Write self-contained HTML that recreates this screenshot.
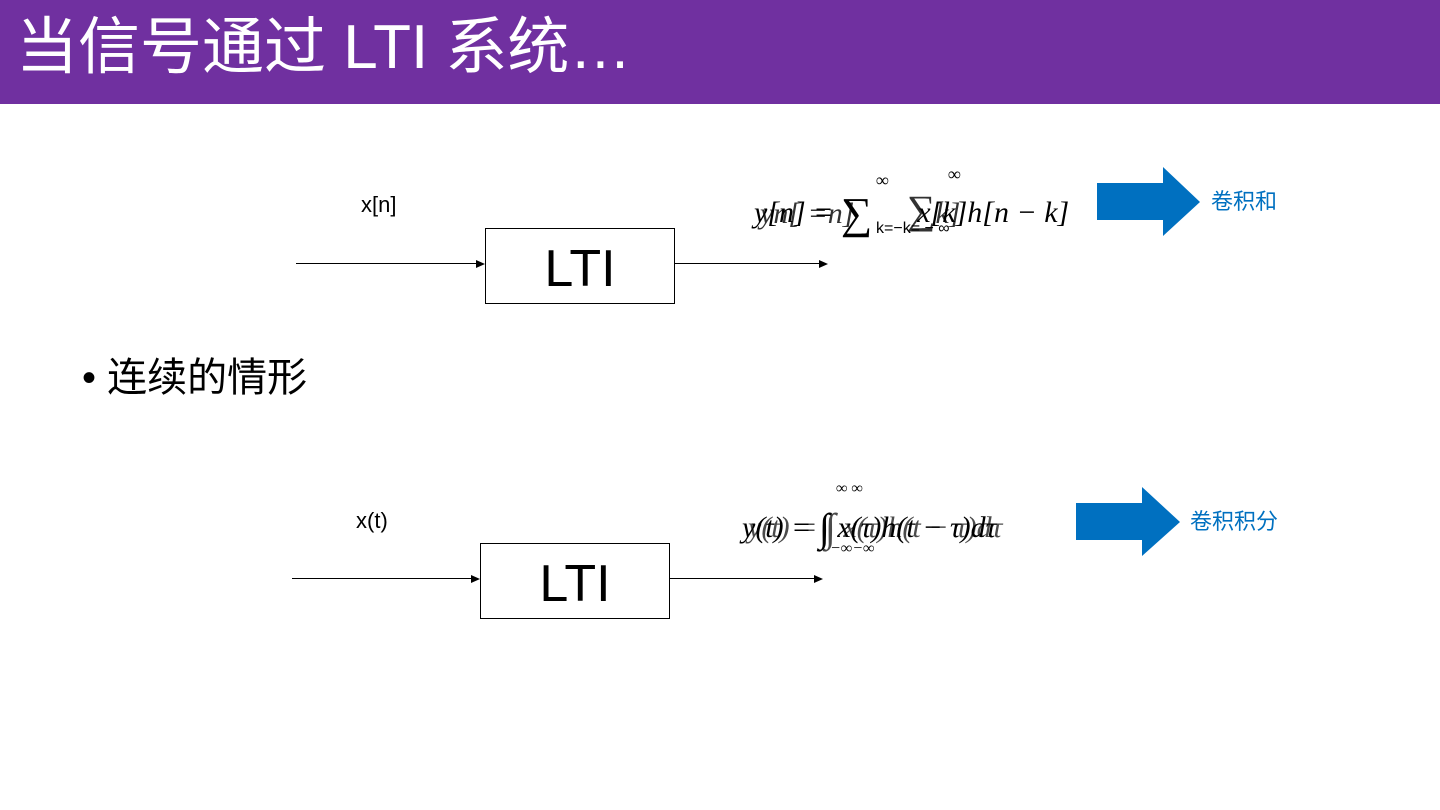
<!DOCTYPE html>
<html><head><meta charset="utf-8"><style>
body{margin:0;width:1440px;height:810px;background:#fff;position:relative;overflow:hidden;font-family:"Liberation Sans","Noto Sans CJK SC",sans-serif}
.hdr{position:absolute;left:0;top:0;width:1440px;height:104px;background:#7030A0}
.t{position:absolute;white-space:nowrap}
.box{position:absolute;border:1px solid #000;background:#fff;font-size:52px;text-align:center}
.ln{position:absolute;height:1px;background:#000}
.ah{position:absolute;width:0;height:0;border-top:4px solid transparent;border-bottom:4px solid transparent;border-left:9px solid #000}
.m{font-family:"Liberation Serif","DejaVu Serif",serif;font-style:italic;color:#000}
</style></head><body>
<div class="hdr"></div>
<div class="t" style="left:16px;top:10px;font-size:62px;color:#fff;line-height:76px">当信号通过 LTI 系统…</div>

<div class="t" style="left:361px;top:192px;font-size:22px">x[n]</div>
<div class="ln" style="left:296px;top:263px;width:180px"></div><div class="ah" style="left:476px;top:260px"></div>
<div class="box" style="left:485px;top:228px;width:188px;height:74px;line-height:80px">LTI</div>
<div class="ln" style="left:675px;top:263px;width:144px"></div><div class="ah" style="left:819px;top:260px"></div>

<div class="t m" style="left:754px;top:182px;font-size:30px">y[n] = <span style="font-style:normal;font-size:44px;position:relative;top:6px">∑</span>&nbsp;&nbsp;&nbsp;&nbsp;&nbsp; x[k]h[n − k]</div>
<div class="t m" style="left:760px;top:186px;font-size:30px;opacity:.8">yn[ =n] &nbsp;&nbsp;&nbsp;&nbsp;&nbsp;&nbsp;<span style="font-style:normal;font-size:40px">∑</span>k]</div>
<div class="t m" style="left:876px;top:170px;font-size:18px">∞</div>
<div class="t m" style="left:948px;top:164px;font-size:18px">∞</div>
<div class="t" style="left:876px;top:220px;font-size:16px">k=−k= − ∞</div>

<svg class="t" style="left:1097px;top:167px" width="104" height="70"><polygon points="0,16 66,16 66,0 103,35 66,69 66,53 0,53" fill="#0070C0"/></svg>
<div class="t" style="left:1211px;top:184px;font-size:22px;color:#0070C0">卷积和</div>

<div class="t" style="left:82px;top:352px;font-size:40px;line-height:52px">• 连续的情形</div>

<div class="t" style="left:356px;top:508px;font-size:22px">x(t)</div>
<div class="ln" style="left:292px;top:578px;width:179px"></div><div class="ah" style="left:471px;top:575px"></div>
<div class="box" style="left:480px;top:543px;width:188px;height:74px;line-height:80px">LTI</div>
<div class="ln" style="left:670px;top:578px;width:144px"></div><div class="ah" style="left:814px;top:575px"></div>

<div class="t m" style="left:742px;top:500px;font-size:30px">y(t) = <span style="font-style:normal;font-size:40px;position:relative;top:4px">∫</span>&nbsp;x(τ)h(t − τ)dτ</div>
<div class="t m" style="left:748px;top:500px;font-size:30px;opacity:.7">y(t) = <span style="font-style:normal;font-size:40px;position:relative;top:4px">∫</span> x(τ)h(t − τ)dτ</div>
<div class="t m" style="left:836px;top:480px;font-size:16px">∞ ∞</div>
<div class="t m" style="left:830px;top:540px;font-size:16px">−∞−∞</div>

<svg class="t" style="left:1076px;top:487px" width="105" height="70"><polygon points="0,16 66,16 66,0 104,35 66,69 66,53 0,53" fill="#0070C0"/></svg>
<div class="t" style="left:1190px;top:504px;font-size:22px;color:#0070C0">卷积积分</div>
</body></html>
